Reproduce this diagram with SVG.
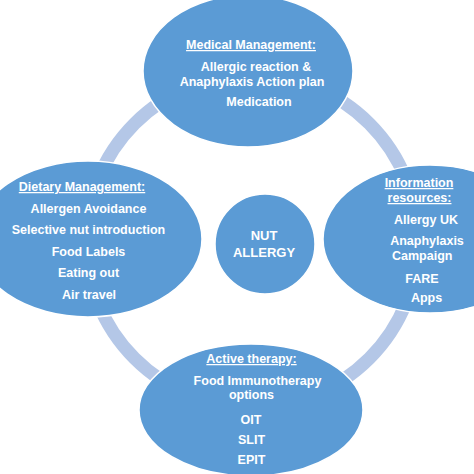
<svg xmlns="http://www.w3.org/2000/svg" width="474" height="474" viewBox="0 0 474 474">
<style>
.node{fill:#5b9bd5;stroke:#ffffff;stroke-width:1.5}
.ring{fill:none;stroke:#b4c7e7;stroke-width:13}
text{font-family:"Liberation Sans",Arial,sans-serif;font-weight:bold;font-size:12.5px;fill:#ffffff;text-anchor:middle}
.h{text-decoration:underline}
</style>
<rect width="474" height="474" fill="#ffffff"/>
<g id="connectors">
<circle class="ring" cx="252" cy="241" r="166"/>
</g>
<g id="medical">
<ellipse class="node" cx="248" cy="71" rx="105" ry="76"/>
<text class="h" x="251" y="49">Medical Management:</text>
<text x="256" y="71">Allergic reaction &amp;</text>
<text x="252" y="86">Anaphylaxis Action plan</text>
<text x="259" y="106">Medication</text>
</g>
<g id="dietary">
<ellipse class="node" cx="88" cy="239" rx="114" ry="78"/>
<text class="h" x="82" y="191">Dietary Management:</text>
<text x="88.5" y="213">Allergen Avoidance</text>
<text x="88.5" y="234">Selective nut introduction</text>
<text x="88.5" y="256">Food Labels</text>
<text x="88.5" y="277">Eating out</text>
<text x="89" y="299">Air travel</text>
</g>
<g id="information">
<ellipse class="node" cx="430" cy="239" rx="107" ry="74"/>
<text class="h" x="419" y="187">Information</text>
<text class="h" x="419.5" y="202">resources:</text>
<text x="426" y="224">Allergy UK</text>
<text x="427" y="245">Anaphylaxis</text>
<text x="392" y="260" style="text-anchor:start">Campaign</text>
<text x="422" y="283">FARE</text>
<text x="426.5" y="302">Apps</text>
</g>
<g id="active">
<ellipse class="node" cx="251" cy="410" rx="112" ry="66"/>
<text class="h" x="251.5" y="363">Active therapy:</text>
<text x="257.5" y="385">Food Immunotherapy</text>
<text x="251.5" y="399">options</text>
<text x="251" y="424">OIT</text>
<text x="251.5" y="444">SLIT</text>
<text x="251.5" y="464">EPIT</text>
</g>
<g id="center">
<circle class="node" cx="265" cy="244" r="50"/>
<text x="264" y="240" style="font-size:13px">NUT</text>
<text x="264" y="257" style="font-size:13px">ALLERGY</text>
</g>
</svg>
